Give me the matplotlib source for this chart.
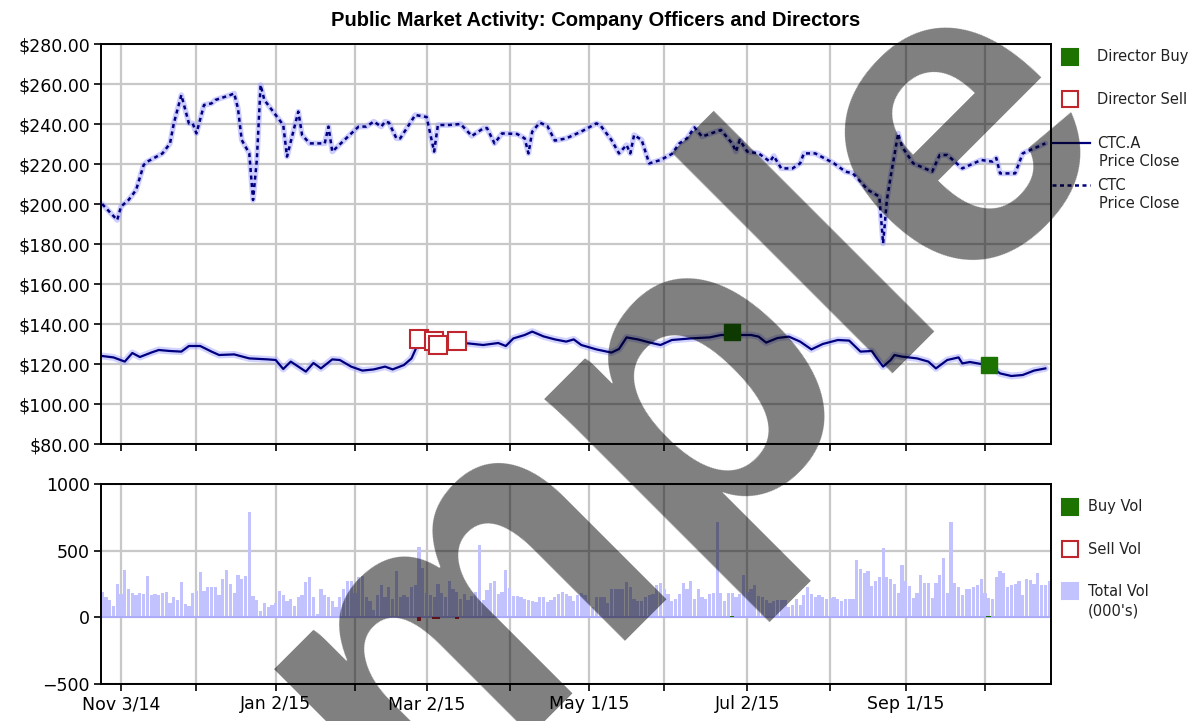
import matplotlib
matplotlib.use("Agg")
import matplotlib.pyplot as plt
from matplotlib.lines import Line2D
from matplotlib.patches import Rectangle

# x axis is the trading-session number, session 0 = Nov 3/14
TICK_DAYS = [0, 20, 41, 62, 81, 103, 124, 144, 166, 188, 208, 229]
TICK_LABELS = ["Nov 3/14", "", "Jan 2/15", "", "Mar 2/15", "", "May 1/15", "",
               "Jul 2/15", "", "Sep 1/15", ""]

# CTC.A close (solid line)
CTCA_DAY = [-5, -2, 1, 3, 5, 8, 10, 13, 16, 18, 21, 24, 26, 30, 34, 39, 41, 43, 45, 49,
            51, 53, 56, 58, 61, 64, 67, 70, 72, 75, 77, 78, 79, 82, 85, 88, 92, 96, 100, 102,
            104, 107, 109, 112, 115, 118, 120, 122, 126, 130, 132, 134, 137, 140, 143, 146,
            151, 156, 159, 162, 164, 167, 169, 171, 174, 177, 180, 183, 186, 190, 193, 196,
            199, 200, 202, 204, 205, 207, 211, 214, 216, 219, 222, 223, 225, 228, 230, 233,
            236, 239, 242, 245]
CTCA_CLOSE = [124.0, 123.3, 121.2, 125.5, 123.5, 125.7, 127.0, 126.5, 126.2, 129.0, 129.0,
              126.2, 124.5, 124.8, 122.8, 122.3, 122.0, 117.5, 121.2, 116.2, 120.5, 117.8,
              122.3, 122.0, 118.7, 116.7, 117.3, 118.7, 117.3, 119.5, 122.8, 127.0, 132.0,
              131.0, 130.0, 130.5, 130.3, 129.5, 130.5, 129.0, 132.8, 134.5, 136.2, 133.8,
              132.3, 131.2, 132.3, 129.5, 127.3, 125.7, 127.5, 133.3, 132.3, 130.8, 129.5,
              132.0, 132.8, 133.3, 134.5, 134.6, 134.5, 134.5, 133.7, 130.7, 133.0, 133.7,
              131.2, 127.3, 130.0, 132.0, 131.7, 126.2, 126.5, 123.7, 118.7, 122.0, 124.5,
              123.7, 122.8, 121.2, 117.8, 122.0, 123.3, 120.3, 121.0, 120.0, 119.5, 115.3,
              114.0, 114.5, 116.7, 117.8]

# CTC close (dotted line)
CTC_DAY = [-5, -1, 0, 2, 4, 6, 7, 11, 13, 14, 16, 18, 19, 20, 22, 24, 25, 29, 30, 31, 32,
           34, 35, 36, 37, 38, 41, 43, 44, 47, 48, 50, 54, 55, 56, 62, 63, 65, 67, 69, 70,
           71, 73, 74, 78, 81, 83, 84, 87, 90, 93, 96, 97, 99, 101, 105, 107, 108, 109, 111,
           113, 115, 118, 122, 126, 127, 130, 132, 134, 135, 136, 138, 140, 143, 146, 148,
           150, 152, 154, 159, 162, 163, 164, 166, 169, 172, 173, 175, 178, 180, 181, 184,
           189, 192, 194, 198, 201, 202, 203, 204, 206, 207, 210, 215, 217, 219, 223, 228,
           231, 232, 233, 237, 239, 245]
CTC_CLOSE = [200.0, 192.0, 198.7, 202.0, 207.0, 219.5, 221.2, 225.3, 230.3, 240.3, 254.5,
             240.3, 240.3, 235.3, 249.5, 250.3, 252.0, 254.5, 255.3, 247.8, 232.0, 225.3,
             202.0, 222.0, 259.5, 252.0, 244.5, 239.5, 223.7, 246.2, 234.5, 230.3, 230.3,
             238.7, 226.2, 237.0, 238.7, 238.7, 241.2, 238.7, 241.2, 240.7, 232.8, 232.8,
             244.5, 243.5, 226.2, 239.5, 239.5, 240.0, 234.0, 237.8, 238.0, 230.3, 235.3,
             235.0, 232.8, 225.3, 236.2, 240.7, 239.0, 231.7, 232.8, 236.2, 240.3, 239.5,
             232.0, 225.3, 229.5, 225.3, 234.5, 232.0, 220.3, 222.0, 225.0, 230.3, 232.8,
             238.3, 233.7, 237.0, 230.3, 226.2, 232.0, 226.2, 225.3, 221.2, 224.0, 217.8,
             217.8, 220.3, 225.3, 225.3, 220.3, 216.2, 215.3, 207.0, 203.7, 180.3, 202.0,
             213.7, 235.3, 228.7, 220.3, 216.2, 224.5, 224.5, 217.8, 222.0, 221.2, 223.0,
             215.3, 215.3, 225.3, 230.3]

# director trades
SELL_DAY = [79, 83, 84, 89]
SELL_PRICE = [132.3, 131.7, 129.5, 131.7]
SELL_VOL = [-30, -12, -12, -12]
BUY_DAY = [162, 230]
BUY_PRICE = [136.0, 119.5]
BUY_VOL = [10, 10]

# total volume (000's), one bar per session from -5 to 246
VOL_FIRST_DAY = -5
TOTAL_VOL = [
    192, 155, 130, 85, 250, 175, 355, 210, 180, 165, 185, 175, 310, 170, 175, 170, 185, 190,
    110, 155, 130, 262, 100, 85, 185, 195, 340, 200, 225, 225, 225, 170, 290, 355, 250, 180,
    320, 290, 310, 790, 160, 130, 50, 105, 80, 90, 105, 200, 170, 120, 135, 85, 150, 170,
    262, 300, 150, 25, 210, 170, 150, 120, 80, 150, 210, 270, 270, 180, 300, 310, 150, 125,
    55, 170, 240, 150, 225, 140, 350, 150, 170, 150, 225, 240, 530, 370, 180, 170, 150, 250,
    180, 150, 270, 215, 190, 140, 175, 130, 160, 190, 540, 130, 205, 260, 270, 175, 190, 355,
    220, 160, 160, 150, 135, 130, 125, 115, 155, 155, 115, 130, 155, 175, 190, 175, 160, 120,
    165, 180, 165, 120, 80, 155, 150, 155, 110, 215, 210, 210, 210, 262, 225, 140, 125, 120,
    155, 165, 175, 240, 260, 210, 175, 125, 140, 175, 255, 210, 270, 140, 215, 155, 140, 175,
    185, 717, 185, 125, 185, 180, 155, 175, 320, 190, 210, 245, 160, 150, 130, 110, 125, 130,
    130, 130, 75, 90, 140, 95, 170, 225, 175, 155, 165, 155, 140, 145, 155, 135, 125, 140,
    140, 140, 430, 365, 330, 350, 235, 275, 300, 520, 300, 285, 250, 185, 390, 270, 235, 145,
    185, 320, 260, 260, 145, 260, 320, 445, 185, 717, 260, 225, 165, 210, 210, 225, 245, 285,
    185, 145, 140, 300, 345, 335, 225, 240, 250, 275, 165, 290, 280, 250, 335, 245, 245, 270,
]
VOL_DAY = list(range(VOL_FIRST_DAY, VOL_FIRST_DAY + len(TOTAL_VOL)))

W, H = 1195, 721
NAVY = "#00007f"
HALO = "#9d9dff"
GRID = "#c8c8c8"
SELL_RED = "#c0262d"
BUY_GREEN = "#1c7300"
VOL_BLUE = "#c2c2ff"
TICK_FONT = {"family": "DejaVu Sans", "size": 12.5}
LEGEND_FONT = {"family": "DejaVu Sans", "size": 10.5, "color": "#222222"}


def fx(px):
    return px / W


def fy(py):
    return 1 - py / H


def style_axes(ax):
    ax.set_axisbelow(True)
    ax.grid(True, color=GRID, lw=1.6)
    for spine in ax.spines.values():
        spine.set_linewidth(1.4)
        spine.set_color("black")
    ax.tick_params(axis="both", direction="out", length=5, width=1.2, pad=3,
                   labelsize=TICK_FONT["size"])
    ax.set_xlim(-5.3, 246.5)
    ax.set_xticks(TICK_DAYS)


fig = plt.figure(figsize=(W / 100, H / 100), dpi=100)
ax_price = fig.add_axes([fx(101), fy(444), (1051 - 101) / W, 400 / H])
ax_vol = fig.add_axes([fx(101), fy(684), (1051 - 101) / W, 200 / H])

# price panel
style_axes(ax_price)
ax_price.set_ylim(80, 280)
ax_price.set_yticks(range(80, 281, 20))
ax_price.set_yticklabels([f"${v:.2f}" for v in range(80, 281, 20)], **TICK_FONT)
ax_price.set_xticklabels([])
ax_price.plot(CTC_DAY, CTC_CLOSE, color=HALO, lw=4, alpha=0.5, solid_capstyle="round")
ax_price.plot(CTC_DAY, CTC_CLOSE, color=NAVY, lw=1.8, ls=(0, (1.6, 1.4)))
ax_price.plot(CTCA_DAY, CTCA_CLOSE, color=HALO, lw=5, alpha=0.45, solid_capstyle="round")
ax_price.plot(CTCA_DAY, CTCA_CLOSE, color=NAVY, lw=1.6)
ax_price.plot(SELL_DAY, SELL_PRICE, ls="none", marker="s", ms=13.5, mfc="white",
              mec=SELL_RED, mew=1.5, zorder=5)
ax_price.plot(BUY_DAY, BUY_PRICE, ls="none", marker="s", ms=12, mfc=BUY_GREEN,
              mec=BUY_GREEN, mew=1, zorder=5)

# volume panel
style_axes(ax_vol)
ax_vol.set_ylim(-500, 1000)
ax_vol.set_yticks([-500, 0, 500, 1000])
ax_vol.set_yticklabels(["\u2212500", "0", "500", "1000"], **TICK_FONT)
ax_vol.set_xticklabels(TICK_LABELS, **TICK_FONT)
ax_vol.bar(VOL_DAY, TOTAL_VOL, width=0.85, color=VOL_BLUE, lw=0, zorder=2)
ax_vol.axhline(0, color="#a8a8ff", lw=1.2, zorder=2.5)
ax_vol.bar(SELL_DAY, SELL_VOL, width=1.2, color=SELL_RED, lw=0, zorder=3)
ax_vol.bar(BUY_DAY, BUY_VOL, width=1.2, color=BUY_GREEN, lw=0, zorder=3)

fig.text(fx(596), fy(26), "Public Market Activity: Company Officers and Directors",
         ha="center", va="baseline", family="Liberation Sans", weight="bold", fontsize=14.5)


# hand-placed legends to the right of each panel
def legend_square(px, py, face, edge, size=16):
    fig.add_artist(Rectangle((fx(px - size / 2), fy(py + size / 2)), size / W, size / H,
                             facecolor=face, edgecolor=edge, lw=1.5, transform=fig.transFigure))


def legend_text(px, py, s):
    fig.text(fx(px), fy(py), s, ha="left", va="center", **LEGEND_FONT)


legend_square(1070, 57, BUY_GREEN, BUY_GREEN)
legend_text(1097, 57, "Director Buy")
legend_square(1070, 99, "white", SELL_RED)
legend_text(1097, 99, "Director Sell")
fig.add_artist(Line2D([fx(1052), fx(1090)], [fy(143), fy(143)], color=NAVY, lw=1.6))
legend_text(1097, 143, "CTC.A")
legend_text(1099, 162, "Price Close")
fig.add_artist(Line2D([fx(1052), fx(1090)], [fy(185), fy(185)], color=NAVY, lw=1.8,
                      ls=(0, (1.6, 1.4))))
legend_text(1097, 185, "CTC")
legend_text(1099, 204, "Price Close")

legend_square(1070, 507, BUY_GREEN, BUY_GREEN)
legend_text(1088, 507, "Buy Vol")
legend_square(1070, 549, "white", SELL_RED)
legend_text(1088, 549, "Sell Vol")
legend_square(1070, 591, VOL_BLUE, VOL_BLUE)
legend_text(1088, 591, "Total Vol")
legend_text(1088, 611, "(000's)")

# sample watermark across the whole figure (cut off by the edges, as in the source)
fig.text(fx(40), fy(1214), "Sample", rotation=45, rotation_mode="anchor",
         ha="left", va="baseline", family="Liberation Sans", weight="bold",
         fontsize=310, color="black", alpha=0.5, zorder=100)

fig.savefig("out.png", dpi=100)
